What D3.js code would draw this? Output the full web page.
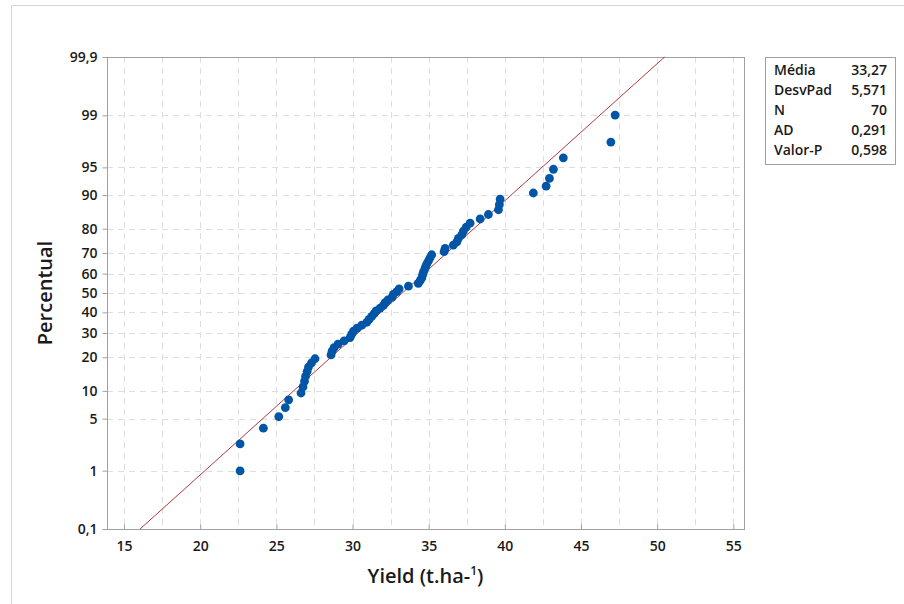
<!DOCTYPE html>
<html>
<head>
<meta charset="utf-8">
<script src="https://cdn.jsdelivr.net/npm/d3@7"></script>
<style>
body { margin: 0; background: #fff; }
text { font-family: "Open Sans", "Noto Sans", sans-serif; fill: #1a1a1a; }
</style>
</head>
<body>
<script>
// sorted yield values (t/ha)
var yieldValues = [22.62, 22.62, 24.15, 25.16, 25.59, 25.81, 26.62, 26.75, 26.85, 26.92,
	27.02, 27.11, 27.31, 27.54, 28.59, 28.66, 28.79, 29.05, 29.45, 29.84,
	29.94, 30.06, 30.30, 30.61, 30.94, 31.09, 31.26, 31.42, 31.55, 31.81,
	32.03, 32.14, 32.33, 32.60, 32.68, 32.91, 33.06, 33.67, 34.32, 34.44,
	34.55, 34.60, 34.65, 34.73, 34.80, 34.88, 34.99, 35.09, 35.20, 36.01,
	36.08, 36.62, 36.85, 36.95, 37.17, 37.28, 37.46, 37.72, 38.38, 38.92,
	39.58, 39.64, 39.69, 41.87, 42.71, 42.93, 43.19, 43.84, 46.96, 47.24];
// percent position of each point
var percentValues = [0.99, 2.41, 3.84, 5.26, 6.68, 8.10, 9.52, 10.94, 12.36, 13.78,
	15.20, 16.62, 18.04, 19.46, 20.88, 22.30, 23.72, 25.14, 26.56, 27.98,
	29.40, 30.82, 32.24, 33.66, 35.09, 36.51, 37.93, 39.35, 40.77, 42.19,
	43.61, 45.03, 46.45, 47.87, 49.29, 50.71, 52.13, 53.55, 54.97, 56.39,
	57.81, 59.23, 60.65, 62.07, 63.49, 64.91, 66.34, 67.76, 69.18, 70.60,
	72.02, 73.44, 74.86, 76.28, 77.70, 79.12, 80.54, 81.96, 83.38, 84.80,
	86.22, 87.64, 89.06, 90.48, 91.90, 93.32, 94.74, 96.16, 97.59, 99.01];

var xTicks = [15, 20, 25, 30, 35, 40, 45, 50, 55];
var xGrid = [15, 17.5, 20, 22.5, 25, 27.5, 30, 32.5, 35, 37.5, 40, 42.5, 45, 47.5, 50, 52.5, 55];
var yTicks = [0.1, 1, 5, 10, 20, 30, 40, 50, 60, 70, 80, 90, 95, 99, 99.9];

var fitMean = 33.27, fitSd = 5.571;
var statLabels = ["Média", "DesvPad", "N", "AD", "Valor-P"];
var statValues = ["33,27", "5,571", "70", "0,291", "0,598"];

var w = 904, h = 604;
var pL = 107, pR = 744, pT = 57, pB = 529;

// inverse normal cdf (Acklam)
function qnorm(p)
{
	var a = [-39.69683028665376, 220.9460984245205, -275.9285104469687, 138.3577518672690, -30.66479806614716, 2.506628277459239];
	var b = [-54.47609879822406, 161.5858368580409, -155.6989798598866, 66.80131188771972, -13.28068155288572];
	var c = [-0.007784894002430293, -0.3223964580411365, -2.400758277161838, -2.549732539343734, 4.374664141464968, 2.938163982698783];
	var d = [0.007784695709041462, 0.3224671290700398, 2.445134137142996, 3.754408661907416];
	var plow = 0.02425, q, r;
	if (p < plow) {
		q = Math.sqrt(-2 * Math.log(p));
		return (((((c[0]*q+c[1])*q+c[2])*q+c[3])*q+c[4])*q+c[5]) / ((((d[0]*q+d[1])*q+d[2])*q+d[3])*q+1);
	}
	if (p > 1 - plow) {
		q = Math.sqrt(-2 * Math.log(1 - p));
		return -(((((c[0]*q+c[1])*q+c[2])*q+c[3])*q+c[4])*q+c[5]) / ((((d[0]*q+d[1])*q+d[2])*q+d[3])*q+1);
	}
	q = p - 0.5; r = q * q;
	return (((((a[0]*r+a[1])*r+a[2])*r+a[3])*r+a[4])*r+a[5])*q / (((((b[0]*r+b[1])*r+b[2])*r+b[3])*r+b[4])*r+1);
}

var x = d3.scaleLinear().domain([13.884, 55.70]).range([pL, pR]);
var yz = d3.scaleLinear().domain([qnorm(0.001), qnorm(0.999)]).range([pB, pT]);
function y(p) { return yz(qnorm(p / 100)); }

var svg = d3.select("body").append("svg")
	.attr("width", w)
	.attr("height", h);

// outer frame (top and left only visible)
svg.append("line").attr("x1", 11.5).attr("x2", w).attr("y1", 5.5).attr("y2", 5.5)
	.attr("stroke", "#d4d4d4");
svg.append("line").attr("x1", 11.5).attr("x2", 11.5).attr("y1", 5.5).attr("y2", h)
	.attr("stroke", "#d4d4d4");

// grid
svg.append("g").selectAll("line")
	.data(xGrid)
	.enter()
	.append("line")
	.attr("x1", function(d){ return Math.round(x(d)) + 0.5; })
	.attr("x2", function(d){ return Math.round(x(d)) + 0.5; })
	.attr("y1", pT)
	.attr("y2", pB)
	.attr("stroke", "#dedede")
	.attr("stroke-dasharray", "6,5");

svg.append("g").selectAll("line")
	.data(yTicks.slice(1, -1))
	.enter()
	.append("line")
	.attr("x1", pL)
	.attr("x2", pR)
	.attr("y1", function(d){ return Math.round(y(d)) + 0.5; })
	.attr("y2", function(d){ return Math.round(y(d)) + 0.5; })
	.attr("stroke", "#dedede")
	.attr("stroke-dasharray", "6,5");

// axes
var xAxis = svg.append("g")
	.attr("transform", "translate(0," + (pB + 0.5) + ")")
	.call(d3.axisBottom(x).tickValues(xTicks).tickSize(-5).tickPadding(12).tickSizeOuter(0));
var yAxis = svg.append("g")
	.attr("transform", "translate(" + (pL + 0.5) + ",0)")
	.call(d3.axisLeft(yz).tickValues(yTicks.map(function(p){ return qnorm(p / 100); }))
		.tickFormat(function(d, i){ return String(yTicks[i]).replace(".", ","); })
		.tickSize(5).tickPadding(5).tickSizeOuter(0));

[xAxis, yAxis].forEach(function(g)
{
	g.select(".domain").remove();
	g.selectAll("line").attr("stroke", "#a0a0a0");
	g.selectAll("text")
		.style("font-family", "'Open Sans', sans-serif")
		.style("font-size", "14px")
		.style("font-weight", "600")
		.attr("fill", "#1a1a1a");
});

// plot frame
svg.append("rect")
	.attr("x", pL + 0.5)
	.attr("y", pT + 0.5)
	.attr("width", pR - pL)
	.attr("height", pB - pT)
	.attr("fill", "none")
	.attr("stroke", "#a0a0a0");

// fitted line
var zl = qnorm(0.001), zh = qnorm(0.999);
svg.append("line")
	.attr("x1", x(fitMean + zl * fitSd))
	.attr("y1", yz(zl))
	.attr("x2", x(fitMean + zh * fitSd))
	.attr("y2", yz(zh))
	.attr("stroke", "#b03a3a")
	.attr("stroke-width", 1);

// points
svg.append("g").selectAll("circle")
	.data(yieldValues)
	.enter()
	.append("circle")
	.attr("cx", function(d){ return x(d); })
	.attr("cy", function(d, i){ return y(percentValues[i]); })
	.attr("r", 4.4)
	.attr("fill", "#0055a6");

// axis titles
var xt = svg.append("text")
	.attr("x", (pL + pR) / 2)
	.attr("y", 583)
	.attr("text-anchor", "middle")
	.style("font-size", "20px")
	.style("font-weight", "600");
xt.append("tspan").text("Yield (t.ha-");
xt.append("tspan").attr("dy", -8).style("font-size", "12px").text("1");
xt.append("tspan").attr("dy", 8).text(")");

svg.append("text")
	.attr("transform", "translate(52," + ((pT + pB) / 2) + ") rotate(-90)")
	.attr("text-anchor", "middle")
	.style("font-size", "20px")
	.style("font-weight", "600")
	.text("Percentual");

// stats box
svg.append("rect")
	.attr("x", 765.5)
	.attr("y", 57.5)
	.attr("width", 130)
	.attr("height", 107)
	.attr("fill", "#fff")
	.attr("stroke", "#a0a0a0");

svg.append("g").selectAll("text")
	.data(statLabels)
	.enter()
	.append("text")
	.attr("x", 774)
	.attr("y", function(d, i){ return 75 + i * 20; })
	.style("font-size", "14px")
	.style("font-weight", "600")
	.text(function(d){ return d; });

svg.append("g").selectAll("text")
	.data(statValues)
	.enter()
	.append("text")
	.attr("x", 887)
	.attr("y", function(d, i){ return 75 + i * 20; })
	.attr("text-anchor", "end")
	.style("font-size", "14px")
	.style("font-weight", "600")
	.text(function(d){ return d; });
</script>
</body>
</html>
